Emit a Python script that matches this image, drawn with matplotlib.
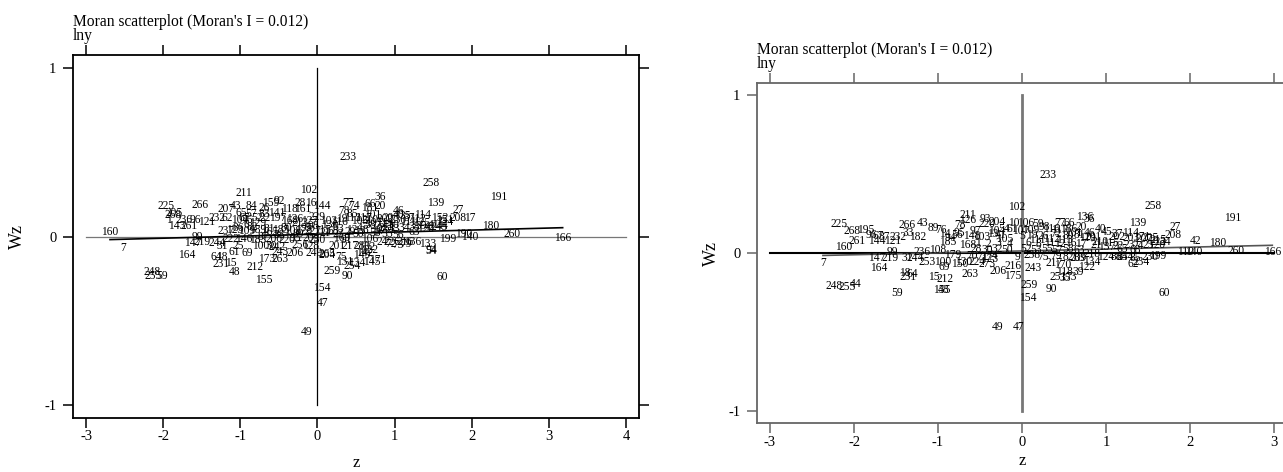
import matplotlib
matplotlib.use("Agg")
import matplotlib.pyplot as plt
import numpy as np

plt.rcParams['font.family'] = ['Liberation Serif', 'DejaVu Serif']

# ---------------- data: left panel ----------------
left_labels = [
    160, 7, 225, 268, 205, 1, 236, 96, 143, 261, 121, 266, 211, 43, 84, 207, 65, 57, 83, 232,
    62, 104, 76, 159, 92, 28, 16, 102, 161, 118, 26, 141, 67, 52, 22, 197, 168, 213, 127, 6,
    129, 237, 123, 109, 189, 165, 185, 108, 178, 227, 222, 146, 183, 200, 220, 95, 100, 30, 242, 243,
    256, 206, 128, 249, 204, 164, 99, 147, 219, 244, 31, 61, 69, 25, 64, 18, 231, 15, 48, 212,
    155, 173, 263, 248, 255, 59, 154, 47, 49, 233, 258, 191, 139, 27, 36, 66, 20, 77, 74, 144,
    46, 40, 35, 37, 114, 152, 151, 208, 17, 180, 260, 166, 190, 140, 199, 133, 94, 54, 60, 216,
    136, 130, 78, 85, 229, 19, 210, 202, 203, 230, 251, 125, 42, 245, 115, 13, 97, 58, 101, 181,
    209, 250, 169, 91, 106, 24, 226, 201, 217, 280, 132, 122, 142, 265, 75, 149, 131, 134, 254, 145,
    171, 259, 90, 5, 3, 12, 4, 8, 10, 32, 33, 34, 38, 39, 41, 44, 21, 23, 29, 50,
    53, 55, 56, 63, 68, 72, 73, 79, 80, 81, 82, 86, 87, 88, 89, 93, 98, 103, 105, 107,
    110, 111, 112, 113, 116, 117, 119, 120, 124, 126,
]
left_z = [
    -2.69, -2.52, -1.96, -1.87, -1.86, -1.92, -1.73, -1.58, -1.82, -1.66, -1.44, -1.52, -0.96, -1.06, -0.86, -1.18, -0.99, -0.86, -0.69, -1.30,
    -1.17, -1.01, -0.91, -0.60, -0.49, -0.23, -0.09, -0.12, -0.19, -0.36, -0.69, -0.53, -0.95, -0.79, -0.68, -0.52, -0.36, -0.23, -0.10, -0.92,
    -0.78, -1.18, -1.08, -0.92, -0.78, -0.62, -0.47, -0.32, -0.18, -0.06, -1.12, -0.95, -0.78, -0.56, -0.39, -0.29, -0.73, -0.60, -0.53, -0.49,
    -0.23, -0.29, -0.09, -0.04, 0.12, -1.70, -1.56, -1.62, -1.49, -1.30, -1.23, -1.08, -0.91, -1.03, -1.31, -1.24, -1.25, -1.12, -1.08, -0.81,
    -0.69, -0.66, -0.49, -2.14, -2.13, -2.01, 0.06, 0.06, -0.14, 0.40, 1.47, 2.35, 1.53, 1.82, 0.82, 0.68, 0.81, 0.40, 0.48, 0.06,
    1.05, 1.05, 1.14, 1.19, 1.36, 1.58, 1.65, 1.82, 1.97, 2.25, 2.53, 3.18, 1.90, 1.97, 1.69, 1.43, 1.48, 1.48, 1.62, 1.13,
    1.24, 0.16, 0.35, 0.45, 0.00, 0.31, 0.68, 0.87, 0.96, 1.04, 0.90, 1.35, 1.45, 1.58, 0.06, 0.55, 0.82, 0.68, 0.71, 0.68,
    -0.08, -0.01, 0.32, 0.38, 0.68, 0.84, 0.97, 0.26, 0.42, 0.58, 0.64, 0.68, 0.61, 0.12, 0.31, 0.57, 0.35, 0.51, 0.45, 0.70,
    0.78, 0.19, 0.39, 0.23, 0.30, 0.45, 0.55, 0.62, 0.77, 0.90, 1.00, 1.12, 1.25, 1.35, 1.50, 1.62, 0.10, 0.27, 0.42, 0.53,
    0.75, 0.90, 1.05, 1.25, 0.20, 0.95, 1.05, 1.15, -0.40, -0.62, -0.85, -1.02, -0.70, -0.50, -0.25, -0.15, -0.05, 0.15, 0.55, 0.73,
    0.95, 1.18, 1.30, 0.45, 0.28, 0.60, 0.87, 1.40, 1.65, -0.30,
]
left_wz = [
    0.024, -0.071, 0.178, 0.130, 0.142, 0.095, 0.095, 0.095, 0.065, 0.065, 0.083, 0.189, 0.260, 0.178, 0.178, 0.160, 0.142, 0.136, 0.136, 0.112,
    0.107, 0.100, 0.095, 0.201, 0.213, 0.201, 0.201, 0.278, 0.160, 0.160, 0.166, 0.142, 0.112, 0.107, 0.112, 0.107, 0.089, 0.077, 0.089, 0.071,
    0.077, 0.030, 0.036, 0.030, 0.036, 0.024, 0.036, 0.030, 0.036, 0.030, -0.012, -0.012, -0.018, -0.012, -0.018, -0.006, -0.059, -0.059, -0.065, -0.089,
    -0.053, -0.095, -0.059, -0.095, -0.112, -0.107, 0.000, -0.036, -0.030, -0.036, -0.059, -0.089, -0.095, -0.059, -0.124, -0.124, -0.160, -0.154, -0.213, -0.178,
    -0.260, -0.136, -0.136, -0.213, -0.231, -0.231, -0.302, -0.396, -0.568, 0.473, 0.314, 0.231, 0.201, 0.154, 0.231, 0.195, 0.178, 0.201, 0.183, 0.183,
    0.148, 0.130, 0.124, 0.112, 0.130, 0.107, 0.095, 0.112, 0.112, 0.065, 0.012, -0.006, 0.012, 0.000, -0.012, -0.047, -0.077, -0.083, -0.237, -0.030,
    -0.030, 0.071, 0.148, 0.136, 0.118, 0.101, 0.095, 0.101, 0.107, 0.095, 0.053, 0.077, 0.059, 0.059, 0.041, 0.030, 0.030, 0.071, 0.130, 0.166,
    -0.006, -0.018, -0.006, -0.018, -0.012, -0.030, -0.030, -0.059, -0.059, -0.059, -0.065, -0.077, -0.095, -0.101, -0.124, -0.112, -0.148, -0.154, -0.172, -0.148,
    -0.142, -0.207, -0.231, 0.059, 0.047, 0.041, 0.053, 0.041, 0.047, 0.041, 0.047, 0.053, 0.059, 0.065, 0.071, 0.065, 0.018, 0.012, 0.024, 0.012,
    0.018, 0.012, 0.006, 0.024, 0.030, -0.047, -0.053, -0.047, 0.053, 0.047, 0.059, 0.053, 0.000, 0.006, 0.012, 0.053, 0.065, 0.089, 0.089, 0.077,
    0.071, 0.083, 0.101, 0.110, 0.083, 0.112, 0.077, 0.047, 0.083, 0.101,
]

# ---------------- data: right panel ----------------
right_labels = [
    225, 268, 195, 96, 87, 67, 261, 144, 121, 160, 7, 99, 147, 219, 31, 244, 164, 248, 255, 44,
    59, 18, 64, 231, 15, 212, 155, 48, 266, 43, 89, 76, 232, 33, 182, 253, 100, 69, 150, 263,
    273, 206, 175, 216, 211, 126, 78, 93, 204, 220, 54, 61, 185, 168, 108, 236, 179, 130, 224, 102,
    106, 10, 59, 98, 77, 66, 136, 36, 186, 20, 46, 40, 45, 37, 210, 114, 171, 139, 258, 27,
    208, 233, 191, 42, 180, 260, 166, 110, 140, 222, 34, 137, 218, 124, 88, 84, 254, 62, 234, 230,
    199, 60, 90, 259, 154, 49, 47, 238, 243, 217, 170, 118, 39, 251, 35, 73, 122, 134, 209, 9,
    14, 56, 148, 13, 41, 5, 19, 26, 72, 80, 81, 101, 201, 202, 203, 207, 205, 215,
    1, 2, 3, 4, 6, 8, 11, 12, 16, 17, 21, 22, 23, 24, 25,
    28, 30, 32, 50, 52, 53, 55, 57, 58, 63, 65, 68,
    70, 71, 74, 75, 79, 82, 83, 85,
    94, 95, 97, 103, 104, 105, 107, 109, 111, 112, 113, 115, 116, 117, 119, 120, 123,
]
right_z = [
    -2.18, -2.02, -1.86, -1.79, -1.64, -1.71, -1.96, -1.73, -1.54, -2.12, -2.37, -1.54, -1.73, -1.57, -1.37, -1.27, -1.71, -2.24, -2.08, -1.98,
    -1.49, -1.40, -1.30, -1.36, -1.05, -0.92, -0.96, -0.93, -1.37, -1.18, -1.06, -0.96, -1.48, -1.35, -1.24, -1.13, -0.95, -0.93, -0.74, -0.62,
    -0.42, -0.29, -0.11, -0.11, -0.65, -0.65, -0.74, -0.44, -0.30, -0.42, -0.21, -0.12, -0.88, -0.65, -1.00, -1.19, -0.82, -0.70, -0.54, -0.07,
    0.04, -0.10, 0.19, 0.27, 0.45, 0.56, 0.75, 0.80, 0.55, 0.70, 0.81, 0.93, 1.01, 1.13, 0.93, 1.29, 1.43, 1.38, 1.56, 1.82,
    1.80, 0.31, 2.51, 2.07, 2.33, 2.55, 2.98, 1.95, 2.04, 1.62, 1.71, 1.01, 0.83, 1.00, 1.12, 1.20, 1.23, 1.32, 1.42, 1.52,
    1.61, 1.69, 0.35, 0.08, 0.07, -0.29, -0.04, 0.12, 0.13, 0.38, 0.48, 0.51, 0.67, 0.43, 0.52, 0.58, 0.77, 0.83, 0.67, -0.05,
    -0.92, -0.77, -0.60, -0.35, -0.25, 0.00, 0.12, 0.25, 0.40, 0.55, 0.68, 0.62, 0.85, 1.13, 1.30, 1.45, 1.52, 1.62,
    -0.52, -0.40, -0.28, -0.15, 0.08, 0.20, 0.33, 0.45, 0.58, 0.70, 0.88, 1.15, 1.28, 1.38, 1.50,
    -0.55, -0.42, -0.30, -0.18, 0.05, 0.17, 0.30, 0.42, 0.55, 0.68, 1.20, 1.35,
    -0.60, -0.48, -0.36, 0.25, 0.40, 0.55, 0.68, 1.35,
    -0.85, -0.75, -0.55, -0.48, -0.30, -0.20, -0.02, 0.10, 0.18, 0.35, 0.50, 1.05, 0.35, 0.45, 0.78, 1.60, -0.38,
]
right_wz = [
    0.184, 0.139, 0.146, 0.114, 0.101, 0.108, 0.076, 0.076, 0.076, 0.038, -0.063, 0.006, -0.032, -0.032, -0.032, -0.032, -0.095, -0.209, -0.215, -0.196,
    -0.253, -0.127, -0.133, -0.152, -0.152, -0.165, -0.234, -0.234, 0.177, 0.190, 0.158, 0.146, 0.101, 0.127, 0.101, -0.057, -0.057, -0.089, -0.070, -0.133,
    -0.070, -0.114, -0.146, -0.082, 0.241, 0.209, 0.177, 0.215, 0.196, 0.184, 0.152, 0.152, 0.070, 0.051, 0.019, 0.006, -0.013, -0.057, -0.057, 0.291,
    0.190, 0.190, 0.184, 0.165, 0.190, 0.190, 0.228, 0.215, 0.152, 0.165, 0.127, 0.152, 0.133, 0.120, 0.070, 0.127, 0.101, 0.190, 0.297, 0.165,
    0.114, 0.494, 0.222, 0.076, 0.063, 0.013, 0.006, 0.006, 0.006, 0.070, 0.070, 0.038, -0.006, -0.025, -0.025, -0.025, -0.025, -0.070, -0.057, -0.025,
    -0.019, -0.253, -0.228, -0.203, -0.285, -0.468, -0.468, -0.013, -0.095, -0.063, -0.076, -0.120, -0.120, -0.152, -0.158, -0.152, -0.089, -0.057, -0.032, -0.025,
    0.120, 0.114, 0.108, 0.120, 0.114, 0.108, 0.114, 0.108, 0.120, 0.108, 0.114, 0.127, 0.101, 0.101, 0.095, 0.089, 0.095, 0.082,
    0.063, 0.057, 0.063, 0.057, 0.063, 0.057, 0.063, 0.057, 0.063, 0.057, 0.050, 0.044, 0.050, 0.044, 0.050,
    0.025, 0.019, 0.025, 0.019, 0.025, 0.019, 0.025, 0.019, 0.025, 0.019, 0.025, 0.019,
    -0.019, -0.025, -0.019, -0.025, -0.019, -0.025, -0.032, -0.032,
    0.095, 0.127, 0.139, 0.101, 0.139, 0.089, 0.139, 0.146, 0.082, 0.089, 0.082, 0.063, 0.152, 0.146, 0.095, 0.050, -0.040,
]

morans_i = 0.012
left_intercept = 0.014
right_intercept = 0.013
title_text = "Moran scatterplot (Moran's I = 0.012)"
var_text = "lny"
left_xticks = [-3, -2, -1, 0, 1, 2, 3, 4]
right_xticks = [-3, -2, -1, 0, 1, 2, 3]
yticks = [-1, 0, 1]

W, H = 1283, 472
fig = plt.figure(figsize=(W / 100, H / 100), dpi=100)


def px_rect(x0, x1, y0, y1):
    return [x0 / W, 1 - y1 / H, (x1 - x0) / W, (y1 - y0) / H]


def panel(rect, labels, zs, wzs, xticks, intercept, frame_col, vline_col, vline_lw,
          hline_col, hline_lw, fit_col, fit_lw, xlim, ylim, title_xy, xpad, ypad):
    ax = fig.add_axes(rect)
    ax.set_xlim(*xlim)
    ax.set_ylim(*ylim)
    for s in ax.spines.values():
        s.set_color(frame_col)
        s.set_linewidth(1.3)
    # reference lines
    ax.plot([xticks[0], xticks[-1]], [0, 0], color=hline_col, lw=hline_lw, zorder=1)
    ax.plot([0, 0], [-1, 1], color=vline_col, lw=vline_lw, zorder=1)
    zmin, zmax = min(zs), max(zs)
    xx = np.array([zmin, zmax])
    ax.plot(xx, intercept + morans_i * xx, color=fit_col, lw=fit_lw, zorder=2)
    for lab, z, w in zip(labels, zs, wzs):
        ax.text(z, w, str(lab), ha='center', va='center', fontsize=8.3, zorder=3)
    ax.set_xticks(xticks)
    ax.set_yticks(yticks)
    ax.set_xticklabels([str(t) for t in xticks])
    ax.set_yticklabels([str(t) for t in yticks])
    ax.tick_params(direction='out', length=7, width=1.1, color=frame_col,
                   labelsize=10.5, top=True, right=True, labeltop=False, labelright=False)
    ax.tick_params(axis='y', pad=5)
    ax.tick_params(axis='x', pad=2)
    ax.set_xlabel('z', fontsize=12, labelpad=xpad)
    ax.set_ylabel('Wz', fontsize=13, labelpad=ypad)
    fig.text(title_xy[0] / W, 1 - title_xy[1] / H, title_text, fontsize=11.2,
             ha='left', va='center')
    fig.text(title_xy[0] / W, 1 - (title_xy[1] + 14) / H, var_text, fontsize=11.2,
             ha='left', va='center')
    return ax


panel(px_rect(73, 639, 55, 418), left_labels, left_z, left_wz, left_xticks, left_intercept,
      'black', 'black', 0.9, '#777777', 0.9, 'black', 1.2,
      (-3.17, 4.17), (-1.074, 1.074), (73, 22), 8, 13)

panel(px_rect(757, 1287, 83, 423), right_labels, right_z, right_wz, right_xticks, right_intercept,
      '#666666', '#777777', 2.0, 'black', 1.5, '#555555', 1.2,
      (-3.155, 3.155), (-1.076, 1.076), (757, 50), 3, 6)

fig.savefig('out.png', dpi=100)
